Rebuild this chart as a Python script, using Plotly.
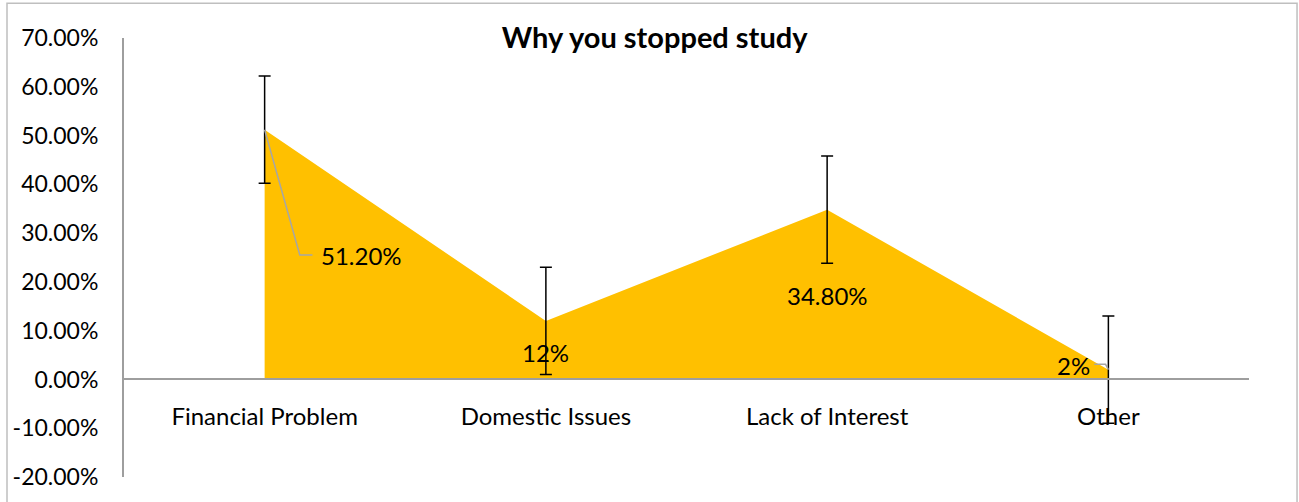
import plotly.graph_objects as go

# Reasons for stopping study (share of respondents, %)
categories = ["Financial Problem", "Domestic Issues", "Lack of Interest", "Other"]
shares = [51.2, 12.0, 34.8, 2.0]
share_labels = ["51.20%", "12%", "34.80%", "2%"]
error_margin = [11.0, 11.0, 11.0, 11.0]
y_ticks = [-20, -10, 0, 10, 20, 30, 40, 50, 60, 70]
y_tick_text = ["-20.00%", "-10.00%", "0.00%", "10.00%", "20.00%", "30.00%",
               "40.00%", "50.00%", "60.00%", "70.00%"]

FONT = "Lato, 'Open Sans', sans-serif"
x_idx = list(range(len(categories)))

fig = go.Figure()

# Filled area with symmetric error bars
fig.add_trace(go.Scatter(
    x=x_idx, y=shares,
    mode="lines",
    line=dict(width=0, color="#FFC000"),
    fill="tozeroy",
    fillcolor="#FFC000",
    error_y=dict(type="data", array=error_margin, visible=True,
                 color="#000000", thickness=1.5, width=6),
    hoverinfo="skip",
    showlegend=False,
))

# Leader lines connecting displaced labels to their points
fig.add_trace(go.Scatter(
    x=[x_idx[0], x_idx[0] + 0.125, x_idx[0] + 0.17],
    y=[shares[0], 25.5, 25.5],
    mode="lines", line=dict(color="#A6A6A6", width=1.5),
    hoverinfo="skip", showlegend=False,
))
fig.add_trace(go.Scatter(
    x=[x_idx[3] - 0.05, x_idx[3] - 0.01, x_idx[3]],
    y=[3.1, 3.1, shares[3]],
    mode="lines", line=dict(color="#A6A6A6", width=1.5),
    hoverinfo="skip", showlegend=False,
))

# Data labels
label_pos = [
    dict(x=x_idx[0] + 0.195, y=25.5, xanchor="left"),
    dict(x=x_idx[1], y=5.5, xanchor="center"),
    dict(x=x_idx[2], y=17.3, xanchor="center"),
    dict(x=x_idx[3] - 0.06, y=2.9, xanchor="right"),
]
for txt, pos in zip(share_labels, label_pos):
    fig.add_annotation(x=pos["x"], y=pos["y"], text=txt, showarrow=False,
                       xanchor=pos["xanchor"], yanchor="middle",
                       font=dict(family=FONT, size=24, color="#000000"))

fig.update_layout(
    width=1299, height=502,
    margin=dict(l=124, r=50, t=38, b=21),
    paper_bgcolor="white", plot_bgcolor="white",
    font=dict(family=FONT, size=24, color="#000000"),
    title=dict(text="<b>Why you stopped study</b>", x=0.504, xanchor="center",
               y=0.925, yanchor="middle",
               font=dict(family=FONT, size=29, color="#000000")),
    xaxis=dict(
        range=[-0.5, 3.5],
        tickmode="array", tickvals=x_idx, ticktext=categories,
        anchor="free", position=20 / 90,
        showline=True, linecolor="#9E9E9E", linewidth=2,
        showgrid=False, zeroline=False, ticks="",
        ticklabelstandoff=16,
        tickfont=dict(family=FONT, size=24),
    ),
    yaxis=dict(
        range=[-20, 70],
        tickmode="array", tickvals=y_ticks, ticktext=y_tick_text,
        showline=True, linecolor="#9E9E9E", linewidth=2,
        showgrid=False, zeroline=False, ticks="",
        ticklabelstandoff=19,
        tickfont=dict(family=FONT, size=23),
    ),
    shapes=[dict(type="rect", xref="paper", yref="paper",
                 x0=-0.104, x1=1.0427, y0=-0.1, y1=1.079,
                 line=dict(color="#BFBFBF", width=1.5), layer="below")],
)

fig.write_html("out.html")
